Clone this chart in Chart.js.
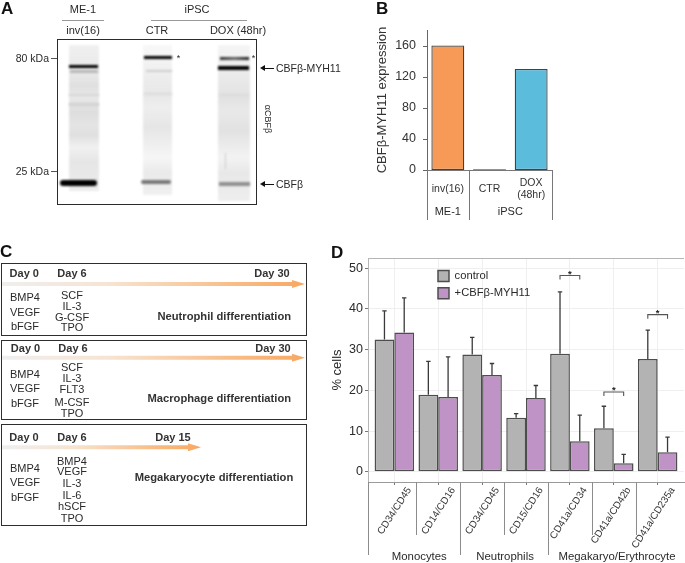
<!DOCTYPE html>
<html><head><meta charset="utf-8">
<script src="https://cdn.jsdelivr.net/npm/chart.js@4"></script>
<style>
html,body{margin:0;padding:0;background:#fff;overflow:hidden}
#page{position:relative;width:685px;height:563px;font-family:"Liberation Sans",Arial,sans-serif;color:#2a2a2a;overflow:hidden;filter:blur(.35px)}
#page canvas{position:absolute}
#page span{position:absolute;white-space:nowrap;line-height:1;font-size:11px;transform:translate(-50%,-50%)}
#page span.l{transform:translate(0,-50%)}
#page span.r{transform:translate(-100%,-50%)}
#page span.b{font-weight:bold;font-size:11px;color:#333}
#page span.t{font-size:11.2px}
#page span.p{font-weight:bold;font-size:17px;color:#111;transform:translate(0,-50%)}
#page div{position:absolute}
.box{border:1.5px solid #2e2e2e;box-sizing:border-box;left:1px;width:306px;background:#fff}
.shaft{height:8px;background:linear-gradient(90deg,#efefef 0%,#f7e4d2 35%,#f8bb83 78%,#f7a862 100%);clip-path:polygon(0 25%,calc(100% - 13px) 25%,calc(100% - 13px) 0,100% 50%,calc(100% - 13px) 100%,calc(100% - 13px) 75%,0 75%)}
.blot{left:57px;top:38.5px;width:200px;height:166px;border:1.5px solid #2b2b2b;box-sizing:border-box;background:#fff;overflow:hidden}
.lane{filter:blur(1.2px)}
.bd{filter:blur(.9px)}
.hl{background:#999;height:1.5px}
.ln{background:#333}
.ah{width:0;height:0;border-top:3px solid transparent;border-bottom:3px solid transparent;border-right:5px solid #111}
</style></head>
<body>
<div id="page">
<span class="p" style="left:1px;top:8px">A</span>
<span class="p" style="left:376px;top:8px">B</span>
<span class="p" style="left:0px;top:251px">C</span>
<span class="p" style="left:331px;top:252px">D</span>

<!-- Panel A: blot -->
<span style="left:83px;top:9px">ME-1</span><span style="left:197px;top:9px">iPSC</span>
<div class="hl" style="left:62px;top:19.5px;width:42px"></div><div class="hl" style="left:151px;top:19.5px;width:96px"></div>
<span style="left:83px;top:30px">inv(16)</span><span style="left:157px;top:30px">CTR</span><span style="left:238px;top:30px">DOX (48hr)</span>
<span class="r" style="left:49px;top:58px;font-size:10.5px">80 kDa</span><span class="r" style="left:49px;top:171px;font-size:10.5px">25 kDa</span>
<div style="left:51px;top:57.5px;width:6px;height:1px;background:#555"></div><div style="left:51px;top:170.5px;width:6px;height:1px;background:#555"></div>
<div class="blot">
  <div class="lane" style="left:11px;top:5px;width:30px;height:146px;background:linear-gradient(180deg,#f0f0f0,#e8e8e8 20%,#e0e0e0 28%,#e8e8e8 36%,#dedede 46%,#e4e4e4 55%,#e0e0e0 62%,#f1f1f1 70%,#e6e6e6 80%,#ececec)"></div>
  <div class="lane" style="left:85px;top:5px;width:29px;height:150px;background:linear-gradient(180deg,#f8f8f8,#eeeeee 20%,#e8e8e8 32%,#eeeeee 42%,#e6e6e6 55%,#f6f6f6 75%,#eaeaea 85%,#f0f0f0)"></div>
  <div class="lane" style="left:160px;top:5px;width:32px;height:156px;background:linear-gradient(180deg,#f5f5f5,#e9e9e9 22%,#e2e2e2 34%,#e9e9e9 42%,#e2e2e2 55%,#f3f3f3 72%,#e8e8e8 82%,#eeeeee)"></div>
  <div class="bd" style="left:11px;top:25px;width:29px;height:3.5px;background:#000"></div>
  <div class="bd" style="left:12px;top:30.5px;width:28px;height:2.5px;background:#b8b8b8"></div>
  <div class="bd" style="left:11px;top:54px;width:30px;height:2px;background:#d6d6d6"></div>
  <div class="bd" style="left:11px;top:63px;width:30px;height:3px;background:#d2d2d2"></div>
  <div class="bd" style="left:2px;top:140px;width:37px;height:6.5px;border-radius:3px;background:#000"></div>
  <div class="bd" style="left:86px;top:16px;width:28px;height:3.8px;background:#000"></div>
  <div class="bd" style="left:88px;top:30px;width:26px;height:2px;background:#cecece"></div>
  <div class="bd" style="left:86px;top:53.5px;width:28px;height:2px;background:#dcdcdc"></div>
  <div class="bd" style="left:83px;top:140px;width:30px;height:4.5px;border-radius:2px;background:#777"></div>
  <div class="bd" style="left:162px;top:17px;width:29px;height:3px;background:linear-gradient(90deg,#333,#666 50%,#222)"></div>
  <div class="bd" style="left:160px;top:26.5px;width:31px;height:4px;background:#000"></div>
  <div class="bd" style="left:161px;top:54px;width:30px;height:2px;background:#dcdcdc"></div>
  <div class="bd" style="left:161px;top:142px;width:31px;height:4px;background:#8f8f8f"></div>
  <div class="bd" style="left:167px;top:113px;width:1px;height:16px;background:#ccc"></div>
</div>
<span style="left:178.5px;top:58px;font-size:9px">*</span><span style="left:253.5px;top:58px;font-size:9px">*</span>
<div class="ln" style="left:263px;top:67.5px;width:11px;height:1px;background:#111"></div><div class="ah" style="left:260px;top:65px"></div>
<div class="ln" style="left:263px;top:183.5px;width:11px;height:1px;background:#111"></div><div class="ah" style="left:260px;top:181px"></div>
<span class="l" style="left:276px;top:68px;font-size:10.5px">CBFβ-MYH11</span><span class="l" style="left:276px;top:184px;font-size:10.5px">CBFβ</span>
<span style="left:267px;top:119px;font-size:9px;transform:translate(-50%,-50%) rotate(90deg)">αCBFβ</span>

<!-- Panel C -->
<div class="box" style="top:263px;height:72.5px"></div>
<div class="box" style="top:340px;height:79.5px"></div>
<div class="box" style="top:424px;height:102px"></div>
<div class="shaft" style="left:2px;top:280px;width:303px"></div>
<div class="shaft" style="left:2px;top:353.7px;width:303px"></div>
<div class="shaft" style="left:2px;top:443.3px;width:199px"></div>
<span class="b" style="left:24.3px;top:273.3px">Day 0</span><span class="b" style="left:72px;top:273.3px">Day 6</span><span class="b" style="left:272px;top:273.3px">Day 30</span>
<span style="left:25px;top:297px">BMP4</span><span style="left:25px;top:311.5px">VEGF</span><span style="left:25px;top:325.5px">bFGF</span>
<span style="left:72px;top:295px">SCF</span><span style="left:72px;top:305.5px">IL-3</span><span style="left:72px;top:316.5px">G-CSF</span><span style="left:72px;top:327px">TPO</span>
<span class="b t" style="left:224.3px;top:316.7px">Neutrophil differentiation</span>
<span class="b" style="left:25.5px;top:347.7px">Day 0</span><span class="b" style="left:73px;top:347.7px">Day 6</span><span class="b" style="left:273px;top:347.7px">Day 30</span>
<span style="left:25px;top:374.3px">BMP4</span><span style="left:25px;top:388px">VEGF</span><span style="left:25px;top:403px">bFGF</span>
<span style="left:72px;top:366.7px">SCF</span><span style="left:72px;top:378.3px">IL-3</span><span style="left:72px;top:389.3px">FLT3</span><span style="left:72px;top:401.7px">M-CSF</span><span style="left:72px;top:413px">TPO</span>
<span class="b t" style="left:219.3px;top:398.7px">Macrophage differentiation</span>
<span class="b" style="left:24px;top:437px">Day 0</span><span class="b" style="left:72px;top:437px">Day 6</span><span class="b" style="left:173px;top:437px">Day 15</span>
<span style="left:25px;top:468px">BMP4</span><span style="left:25px;top:482px">VEGF</span><span style="left:25px;top:497px">bFGF</span>
<span style="left:72px;top:460.5px">BMP4</span><span style="left:72px;top:471px">VEGF</span><span style="left:72px;top:483px">IL-3</span><span style="left:72px;top:495px">IL-6</span><span style="left:72px;top:506px">hSCF</span><span style="left:72px;top:518px">TPO</span>
<span class="b t" style="left:214px;top:477.7px">Megakaryocyte differentiation</span>

<canvas id="chartB" style="left:360px;top:0;width:200px;height:230px"></canvas>
<canvas id="chartD" style="left:330px;top:245px;width:355px;height:318px"></canvas>
</div>
<script>
// ---- Panel B data ----
const bCategories = ['inv(16)', 'CTR', ['DOX', '(48hr)']];
const bValues = [160, 1, 130];
const bColors = ['#f79a57', '#222222', '#5cbcdc'];
const bGroups = ['ME-1', 'iPSC'];
const bGroupFirst = [0, 1];
const bGroupLast = [0, 2];

// ---- Panel D data ----
const dCategories = ['CD34/CD45', 'CD14/CD16', 'CD34/CD45', 'CD15/CD16', 'CD41a/CD34', 'CD41a/CD42b', 'CD41a/CD235a'];
const dPositions = [1, 2, 3, 4, 5, 6, 7];
const dControl = [32.5, 18.9, 28.8, 13.3, 29.0, 10.7, 27.7];
const dMyh = [34.2, 18.4, 23.8, 18.1, 7.5, 2.1, 4.8];
const dControlUpper = [39.5, 27.1, 33.0, 14.3, 44.2, 16.1, 34.8];
const dMyhUpper = [42.7, 28.2, 26.6, 21.2, 13.9, 4.3, 8.5];
const dSeriesNames = ['control', '+CBFβ-MYH11'];
const dGroups = ['Monocytes', 'Neutrophils', 'Megakaryo/Erythrocyte'];
const dGroupFirst = [1, 3, 5];
const dGroupLast = [2, 4, 7];
const dSigCategory = [5, 6, 7];
const dSigLevel = [48.2, 19.6, 38.6];
const dYTicks = [0, 10, 20, 30, 40, 50];

const FONT = '"Liberation Sans", Arial, sans-serif';
Chart.defaults.font.family = FONT;
Chart.defaults.color = '#2a2a2a';
Chart.defaults.animation = false;

const bGroupPlugin = {
  id: 'bGroup',
  afterDraw(chart) {
    const {ctx, scales: {x}} = chart;
    const bottom = chart.chartArea.bottom, half = (x.getPixelForValue(1) - x.getPixelForValue(0)) / 2;
    ctx.save();
    ctx.strokeStyle = '#777'; ctx.lineWidth = 1;
    ctx.beginPath(); ctx.moveTo(chart.chartArea.left, bottom + .5); ctx.lineTo(chart.chartArea.right, bottom + .5);
    const edges = [x.getPixelForValue(0) - half];
    bGroupLast.forEach(i => edges.push(x.getPixelForValue(i) + half));
    edges.forEach(e => { ctx.moveTo(Math.round(e) + .5, bottom); ctx.lineTo(Math.round(e) + .5, bottom + 50); });
    ctx.stroke();
    ctx.fillStyle = '#2a2a2a'; ctx.font = '11px ' + FONT; ctx.textAlign = 'center'; ctx.textBaseline = 'middle';
    bGroups.forEach((g, i) => ctx.fillText(g, (x.getPixelForValue(bGroupFirst[i]) + x.getPixelForValue(bGroupLast[i])) / 2, bottom + 42));
    ctx.restore();
  }
};
new Chart(document.getElementById('chartB'), {
  type: 'bar',
  data: {labels: bCategories, datasets: [{data: bValues, backgroundColor: bColors, borderColor: '#3a454b', borderWidth: 1.3, borderSkipped: false, categoryPercentage: 1, barPercentage: .79}]},
  options: {
    responsive: false, maintainAspectRatio: false, devicePixelRatio: 1,
    layout: {padding: {top: 30, right: 8, left: 0, bottom: 0}},
    plugins: {legend: {display: false}, tooltip: {enabled: false}},
    scales: {
      x: {grid: {display: false}, border: {display: false},
        ticks: {font: {size: 10.5}, color: '#333', autoSkip: false, maxRotation: 0, minRotation: 0, crossAlign: 'center', padding: 5},
        afterFit: s => { s.height = 60; }},
      y: {min: 0, max: 180, afterBuildTicks: s => { s.ticks = [0,20,40,60,80,100,120,140,160,180].map(value => ({value})); },
        grid: {display: false},
        border: {display: true, color: '#666'},
        title: {display: true, text: 'CBFβ-MYH11 expression', font: {size: 13}, color: '#333', padding: {top: 15, bottom: 0}},
        ticks: {font: {size: 12.5}, color: '#333', padding: 3, callback: v => (v % 40 === 0 && v <= 160 ? String(v) : '')},
        afterFit: s => { s.width = 67; }}
    }
  },
  plugins: [bGroupPlugin, {id:'bTicks', afterDraw(chart){
    const {ctx, scales:{y}} = chart;
    ctx.save(); ctx.strokeStyle='#666'; ctx.beginPath();
    y.ticks.forEach(t=>{const p=Math.round(y.getPixelForValue(t.value))+.5; ctx.moveTo(chart.chartArea.left-4,p); ctx.lineTo(chart.chartArea.left,p);});
    ctx.stroke(); ctx.restore();
  }}]
});

const dPlugin = {
  id: 'dExtras',
  beforeDatasetsDraw(chart) {
    const {ctx, chartArea: a} = chart;
    ctx.save(); ctx.strokeStyle = '#b5b5b5'; ctx.lineWidth = 1.2; ctx.beginPath();
    ctx.moveTo(a.left, a.top + .5); ctx.lineTo(a.right, a.top + .5); ctx.stroke(); ctx.restore();
  },
  afterDatasetsDraw(chart) {
    const {ctx, scales: {y}} = chart;
    ctx.save();
    [dControlUpper, dMyhUpper].forEach((up, ds) => {
      const meta = chart.getDatasetMeta(ds);
      up.forEach((u, i) => {
        const cx = meta.data[i].x, top = y.getPixelForValue(u), base = meta.data[i].y;
        ctx.strokeStyle = '#3a3a3a'; ctx.lineWidth = 1.3; ctx.beginPath();
        ctx.moveTo(cx, base); ctx.lineTo(cx, top); ctx.moveTo(cx - 2.2, top); ctx.lineTo(cx + 2.2, top); ctx.stroke();
      });
    });
    dSigCategory.forEach((c, i) => {
      const m0 = chart.getDatasetMeta(0).data[c - 1], m1 = chart.getDatasetMeta(1).data[c - 1];
      const ly = y.getPixelForValue(dSigLevel[i]), dy = y.getPixelForValue(dSigLevel[i] - 1);
      ctx.strokeStyle = '#555'; ctx.lineWidth = 1.1; ctx.beginPath();
      ctx.moveTo(m0.x, dy); ctx.lineTo(m0.x, ly); ctx.lineTo(m1.x, ly); ctx.lineTo(m1.x, dy); ctx.stroke();
      ctx.fillStyle = '#222'; ctx.font = 'bold 9.5px ' + FONT; ctx.textAlign = 'center'; ctx.textBaseline = 'middle';
      ctx.fillText('*', (m0.x + m1.x) / 2, ly - 1.5);
    });
    ctx.restore();
  },
  afterDraw(chart) {
    const {ctx, scales: {x}, chartArea: a} = chart;
    ctx.save();
    ctx.strokeStyle = '#8c8c8c'; ctx.lineWidth = 1; ctx.beginPath();
    for (let i = 2; i <= dCategories.length; i++) {
      const isGroupEdge = dGroupFirst.includes(i);
      const e = Math.round(x.getPixelForValue(i - .5)) + .5;
      ctx.moveTo(e, a.bottom); ctx.lineTo(e, a.bottom + (isGroupEdge ? 73 : 53));
    }
    ctx.moveTo(a.left + .5, a.bottom); ctx.lineTo(a.left + .5, a.bottom + 73);
    ctx.stroke();
    ctx.fillStyle = '#2a2a2a'; ctx.font = '11.4px ' + FONT; ctx.textAlign = 'center'; ctx.textBaseline = 'middle';
    dGroups.forEach((g, i) => {
      const from = x.getPixelForValue(dGroupFirst[i] - .5);
      const to = i === dGroups.length - 1 ? a.right : x.getPixelForValue(dGroupLast[i] + .5);
      ctx.fillText(g, (from + to) / 2 + (i === 0 ? 3 : 1), a.bottom + 74.5);
    });
    ctx.restore();
  },
  afterLayout(chart) {
    const l = chart.legend;
    if (l) { l.left = 102; l.top = 19.5; l.right = 300; l.bottom = 70; }
  }
};
const toPoints = vals => vals.map((v, i) => ({x: dPositions[i], y: v}));
new Chart(document.getElementById('chartD'), {
  type: 'bar',
  data: {datasets: [
    {label: dSeriesNames[0], data: toPoints(dControl), backgroundColor: '#b3b3b3', borderColor: '#4d4d4d', borderWidth: 1.5, borderSkipped: false, categoryPercentage: .9, barPercentage: 1},
    {label: dSeriesNames[1], data: toPoints(dMyh), backgroundColor: '#bf93c6', borderColor: '#4d4d4d', borderWidth: 1.5, borderSkipped: false, categoryPercentage: .9, barPercentage: 1}
  ]},
  options: {
    responsive: false, maintainAspectRatio: false, devicePixelRatio: 1,
    layout: {padding: {top: 13, right: 1, left: 0, bottom: 0}},
    plugins: {
      tooltip: {enabled: false},
      legend: {position: 'chartArea', align: 'start',
        labels: {boxWidth: 11, boxHeight: 11, padding: 6, font: {size: 11.2}, color: '#2a2a2a'}}
    },
    scales: {
      x: {type: 'linear', min: .4, max: 7.6, offset: false,
        afterBuildTicks: s => { s.ticks = dPositions.map(value => ({value})); },
        grid: {offset: false, color: '#efefef', tickColor: '#777', tickLength: 3},
        border: {display: true, color: '#9a9a9a'},
        ticks: {font: {size: 10}, color: '#333', maxRotation: 57, minRotation: 57, autoSkip: false, padding: 0, labelOffset: 15,
          callback: v => dCategories[dPositions.indexOf(v)] ?? ''},
        afterFit: s => { s.height = 81; }},
      y: {min: -2.5, max: 52.5,
        afterBuildTicks: s => { s.ticks = dYTicks.map(value => ({value})); },
        grid: {color: '#efefef', tickColor: '#777', tickLength: 3},
        border: {display: true, color: '#b5b5b5'},
        title: {display: true, text: '% cells', font: {size: 13}, color: '#2a2a2a', padding: 0},
        ticks: {font: {size: 12.5}, color: '#2a2a2a', padding: 2},
        afterFit: s => { s.width = 38; }}
    }
  },
  plugins: [dPlugin]
});
</script>
</body></html>
